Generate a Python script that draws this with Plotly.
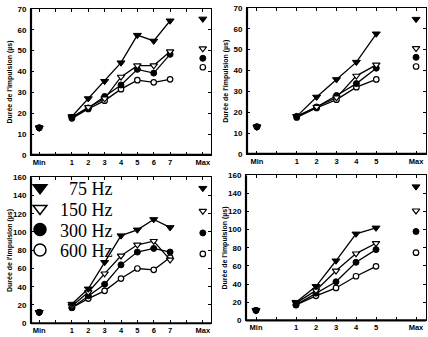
import plotly.graph_objects as go

# ---------------- data ----------------
series_names = ["75 Hz", "150 Hz", "300 Hz", "600 Hz"]
legend_labels = ["\u200775 Hz", "150 Hz", "300 Hz", "600 Hz"]

steps7 = [1, 2, 3, 4, 5, 6, 7]
steps5 = [1, 2, 3, 4, 5]
min_pos = -1
max_pos7 = 9
max_pos5 = 7

tickvals7 = [-1, 0, 1, 2, 3, 4, 5, 6, 7, 8, 9]
ticktext7 = ["Min", "", "1", "2", "3", "4", "5", "6", "7", "", "Max"]
tickvals5 = [-1, 0, 1, 2, 3, 4, 5, 6, 7]
ticktext5 = ["Min", "", "1", "2", "3", "4", "5", "", "Max"]

# panel 1 (top left, 7 steps, 0-70)
p1_75 = [18.4, 27.0, 35.3, 44.2, 57.4, 54.6, 64.3]
p1_150 = [18.0, 22.8, 27.0, 37.4, 42.8, 42.8, 49.6]
p1_300 = [18.0, 22.5, 28.0, 33.5, 41.0, 39.2, 48.2]
p1_600 = [17.5, 22.0, 26.0, 31.5, 35.8, 34.8, 36.2]
p1_min = [13, 13, 13, 13]
p1_max = [65.2, 51.0, 46.3, 42.0]

# panel 2 (top right, 5 steps, 0-70)
p2_75 = [18.0, 27.3, 35.7, 44.0, 57.6]
p2_150 = [18.0, 22.5, 27.0, 37.4, 42.7]
p2_300 = [18.0, 22.5, 28.0, 33.7, 41.1]
p2_600 = [17.5, 22.0, 26.0, 32.0, 35.7]
p2_min = [13, 13, 13, 13]
p2_max = [64.6, 50.6, 46.3, 41.9]

# panel 3 (bottom left, 7 steps, 0-160)
p3_75 = [21.0, 37.7, 66.8, 96.0, 102.4, 113.8, 105.0]
p3_150 = [19.0, 34.0, 54.4, 74.0, 86.0, 90.0, 69.5]
p3_300 = [17.0, 30.0, 42.7, 64.0, 78.0, 82.0, 78.0]
p3_600 = [17.0, 27.0, 35.5, 49.0, 60.0, 58.5, 72.0]
p3_min = [12, 12, 12, 12]
p3_max = [148.0, 123.0, 99.0, 76.0]

# panel 4 (bottom right, 5 steps, 0-160)
p4_75 = [20.0, 37.5, 65.7, 95.4, 102.0]
p4_150 = [19.0, 33.0, 54.6, 73.6, 85.0]
p4_300 = [17.0, 30.0, 42.5, 64.0, 78.0]
p4_600 = [17.0, 27.0, 35.7, 48.6, 59.6]
p4_min = [11, 11, 11, 11]
p4_max = [147.5, 121.0, 98.0, 74.6]

y_title = "Durée de l'impulsion (µs)"

# ---------------- styles ----------------
marker_styles = [
    dict(symbol="triangle-down", color="black", size=7, line=dict(color="black", width=1)),
    dict(symbol="triangle-down", color="white", size=6.5, line=dict(color="black", width=1.2)),
    dict(symbol="circle", color="black", size=6, line=dict(color="black", width=1)),
    dict(symbol="circle", color="white", size=5.5, line=dict(color="black", width=1.2)),
]

panels = [
    dict(ax="", steps=steps7, data=[p1_75, p1_150, p1_300, p1_600], mins=p1_min, maxs=p1_max, maxpos=max_pos7),
    dict(ax="2", steps=steps5, data=[p2_75, p2_150, p2_300, p2_600], mins=p2_min, maxs=p2_max, maxpos=max_pos5),
    dict(ax="3", steps=steps7, data=[p3_75, p3_150, p3_300, p3_600], mins=p3_min, maxs=p3_max, maxpos=max_pos7),
    dict(ax="4", steps=steps5, data=[p4_75, p4_150, p4_300, p4_600], mins=p4_min, maxs=p4_max, maxpos=max_pos5),
]

fig = go.Figure()

for p in panels:
    xa = "x" + p["ax"]
    ya = "y" + p["ax"]
    for i in reversed(range(4)):
        ms = marker_styles[i]
        fig.add_trace(go.Scatter(
            x=p["steps"], y=p["data"][i], mode="lines+markers",
            line=dict(color="black", width=1.3),
            marker=ms, xaxis=xa, yaxis=ya, showlegend=False, cliponaxis=False))
        fig.add_trace(go.Scatter(
            x=[min_pos, p["maxpos"]], y=[p["mins"][i], p["maxs"][i]], mode="markers",
            marker=ms, xaxis=xa, yaxis=ya, showlegend=False, cliponaxis=False))

W, H = 428, 337

# legend entries (markers only) in bottom-left panel, one legend per row
legend_ids = ["legend", "legend2", "legend3", "legend4"]
legend_rows_px = [189, 210.5, 232, 253]
for i in range(4):
    ms = dict(marker_styles[i])
    ms["size"] = 12
    ms["line"] = dict(color="black", width=1.5)
    fig.add_trace(go.Scatter(
        x=[None], y=[None], mode="markers", name=legend_labels[i],
        marker=ms, xaxis="x3", yaxis="y3", showlegend=True, legend=legend_ids[i]))

legend_layout = {}
for i, lid in enumerate(legend_ids):
    legend_layout[lid] = dict(
        x=20 / W, y=1 - legend_rows_px[i] / H, xanchor="left", yanchor="middle",
        bgcolor="rgba(0,0,0,0)", borderwidth=0,
        font=dict(family="Liberation Serif", size=18, color="black"),
        itemsizing="trace", tracegroupgap=0, itemwidth=30)

def fx(a, b):
    return [a / W, b / W]
def fy(top, bottom):
    return [1 - bottom / H, 1 - top / H]

tick_font = dict(family="Liberation Sans", size=8, color="black", weight="bold")
xtick_font = dict(family="Liberation Sans", size=7.5, color="black", weight="bold")

def xaxis(domain, anchor, vals, text, rng):
    return dict(domain=domain, anchor=anchor, range=rng, tickmode="array",
                tickvals=vals, ticktext=text, ticks="inside", ticklen=3,
                tickwidth=1, tickcolor="black", showline=True, linecolor="black",
                linewidth=1, mirror="ticks", showgrid=False, zeroline=False,
                tickfont=xtick_font)

def yaxis(domain, anchor, rng, dtick):
    return dict(domain=domain, anchor=anchor, range=rng, dtick=dtick, tick0=0,
                ticks="inside", ticklen=3, tickwidth=1, tickcolor="black",
                showline=True, linecolor="black", linewidth=1, mirror="ticks",
                showgrid=False, zeroline=False, tickfont=tick_font,
                ticklabelstandoff=2)

fig.update_layout(
    width=W, height=H, margin=dict(l=0, r=0, t=0, b=0),
    paper_bgcolor="white", plot_bgcolor="white",
    xaxis=xaxis(fx(31, 211), "y", tickvals7, ticktext7, [-1.5, 9.5]),
    yaxis=yaxis(fy(5, 155), "x", [0, 70], 10),
    xaxis2=xaxis(fx(247, 426), "y2", tickvals5, ticktext5, [-1.5, 7.5]),
    yaxis2=yaxis(fy(4, 154), "x2", [0, 70], 10),
    xaxis3=xaxis(fx(31, 211), "y3", tickvals7, ticktext7, [-1.5, 9.5]),
    yaxis3=yaxis(fy(178, 328), "x3", [0, 160], 20),
    xaxis4=xaxis(fx(246, 426), "y4", tickvals5, ticktext5, [-1.5, 7.5]),
    yaxis4=yaxis(fy(176, 325), "x4", [0, 160], 20),
    showlegend=True,
    **legend_layout,
)

# heavy left and bottom frame lines, y-axis titles
shapes = []
annotations = []
for ax in ["", "2", "3", "4"]:
    xr = "x" + ax + " domain"
    yr = "y" + ax + " domain"
    shapes.append(dict(type="line", xref=xr, yref=yr, x0=0, x1=0, y0=0, y1=1,
                       line=dict(color="black", width=2.2)))
    shapes.append(dict(type="line", xref=xr, yref=yr, x0=0, x1=1, y0=0, y1=0,
                       line=dict(color="black", width=2.2)))
    annotations.append(dict(text=y_title, xref=xr, yref=yr, x=-0.118, y=0.5,
                            xanchor="center", yanchor="middle", textangle=-90,
                            showarrow=False,
                            font=dict(family="Liberation Sans", size=7, color="black", weight="bold")))
fig.update_layout(shapes=shapes, annotations=annotations)

fig.write_html("out.html")
